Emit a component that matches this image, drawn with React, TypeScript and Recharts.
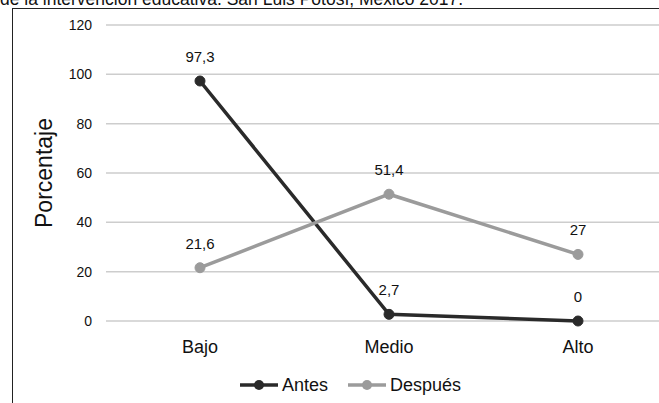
import React from 'react';
import { LineChart, Line, XAxis, YAxis, CartesianGrid, Legend, LabelList } from 'recharts';

const categories = ['Bajo', 'Medio', 'Alto'];
const antes = [97.3, 2.7, 0];
const despues = [21.6, 51.4, 27];
const yTicks = [0, 20, 40, 60, 80, 100, 120];

const data = categories.map((name, i) => ({ name, antes: antes[i], despues: despues[i] }));

const fmt = (v: any) => String(v).replace('.', ',');

const renderLegend = (props: any) => {
    const { payload } = props;
    return (
        <div
            style={{
                display: 'flex',
                justifyContent: 'center',
                alignItems: 'center',
                height: 24,
                paddingLeft: 42,
                fontFamily: '"Liberation Sans", Arial, sans-serif',
                fontSize: 18,
                color: '#111',
            }}
        >
            {payload.map((entry: any, i: number) => (
                <div key={entry.value} style={{ display: 'flex', alignItems: 'center', marginLeft: i > 0 ? 20 : 0 }}>
                    <svg width={38} height={12} style={{ marginRight: 4 }}>
                        <line x1={0} y1={6} x2={38} y2={6} stroke={entry.color} strokeWidth={3.5} />
                        <circle cx={19} cy={6} r={5} fill={entry.color} />
                    </svg>
                    <span>{entry.value}</span>
                </div>
            ))}
        </div>
    );
};

export default function App() {
    return (
        <div style={{ position: 'absolute', top: 0, left: 0, width: 659, height: 403, overflow: 'hidden', background: '#fff' }}>
            {/* caption line cut off at the top, as in the source image */}
            <div
                style={{
                    position: 'absolute',
                    top: -9,
                    left: 0,
                    whiteSpace: 'nowrap',
                    fontFamily: '"Liberation Sans", Arial, sans-serif',
                    fontSize: 17.5,
                    lineHeight: '17px',
                    color: '#111',
                }}
            >
                de la intervención educativa. San Luis Potosí, México 2017.
            </div>
            <div
                style={{
                    position: 'absolute',
                    top: 8,
                    left: 12,
                    width: 700,
                    height: 420,
                    borderTop: '1.5px solid #222',
                    borderLeft: '1.5px solid #222',
                }}
            />
            <div style={{ position: 'absolute', top: 0, left: 0 }}>
                <LineChart
                    width={659}
                    height={403}
                    data={data}
                    margin={{ top: 25, right: 0, left: 0, bottom: 6 }}
                    style={{ fontFamily: '"Liberation Sans", Arial, sans-serif' }}
                >
                    <CartesianGrid vertical={false} stroke="#cdcdcd" strokeWidth={1.5} />
                    <XAxis
                        dataKey="name"
                        height={52}
                        padding={{ left: 94, right: 81 }}
                        axisLine={false}
                        tickLine={false}
                        tickMargin={13}
                        tick={{ fill: '#111', fontSize: 18 }}
                    />
                    <YAxis
                        width={106}
                        domain={[0, 120]}
                        ticks={yTicks}
                        axisLine={false}
                        tickLine={false}
                        tickMargin={8}
                        tick={{ fill: '#111', fontSize: 14 }}
                        label={{ value: 'Porcentaje', angle: -90, position: 'center', dx: -9, fill: '#111', fontSize: 23 }}
                    />
                    <Legend verticalAlign="bottom" content={renderLegend} />
                    <Line
                        type="linear"
                        dataKey="antes"
                        name="Antes"
                        stroke="#2a2a2a"
                        strokeWidth={3.5}
                        dot={{ r: 5, fill: '#2a2a2a', stroke: '#2a2a2a', strokeWidth: 1 }}
                        activeDot={false}
                        isAnimationActive={false}
                    >
                        <LabelList dataKey="antes" position="top" offset={19} formatter={fmt} fill="#111" fontSize={15} />
                    </Line>
                    <Line
                        type="linear"
                        dataKey="despues"
                        name="Después"
                        stroke="#9b9b9b"
                        strokeWidth={3.5}
                        dot={{ r: 5, fill: '#9b9b9b', stroke: '#9b9b9b', strokeWidth: 1 }}
                        activeDot={false}
                        isAnimationActive={false}
                    >
                        <LabelList dataKey="despues" position="top" offset={19} formatter={fmt} fill="#111" fontSize={15} />
                    </Line>
                </LineChart>
            </div>
        </div>
    );
}
